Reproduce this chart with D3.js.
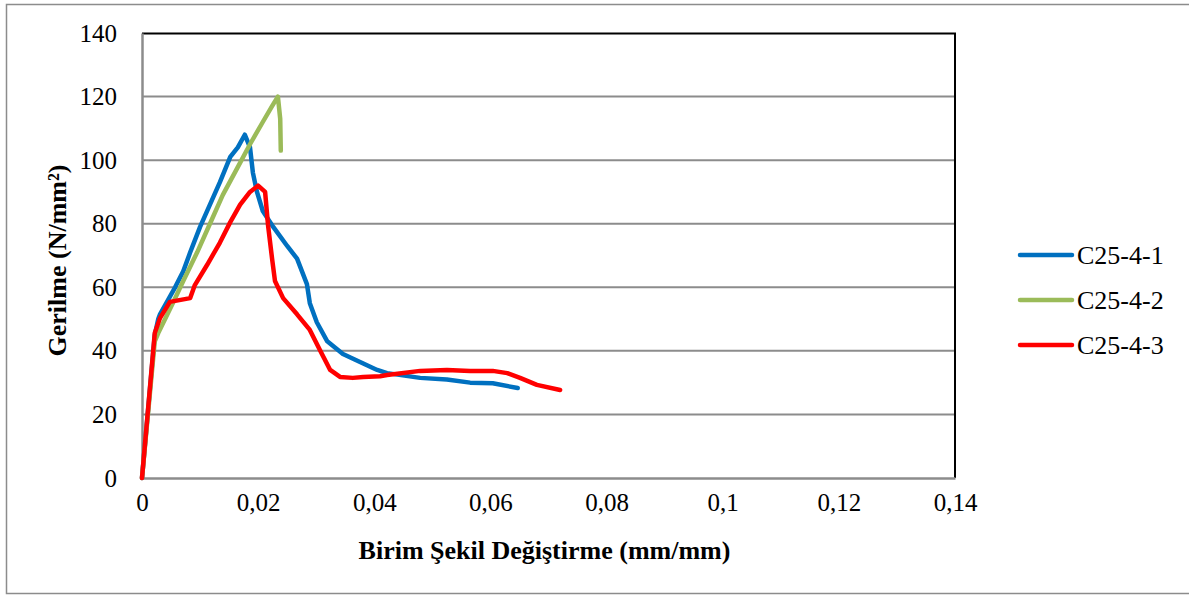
<!DOCTYPE html>
<html>
<head>
<meta charset="utf-8">
<script src="https://cdn.jsdelivr.net/npm/d3@7"></script>
<style>
  body { margin: 0; background: #fff; }
  svg { display: block; font-family: "Liberation Serif", "Times New Roman", serif; }
</style>
</head>
<body>
<svg id="chart" width="1189" height="596"></svg>
<script>
// strain (mm/mm) vs stress (N/mm²)
const seriesNames = ['C25-4-1', 'C25-4-2', 'C25-4-3'];
const seriesColors = ['#0070C0', '#9BBB59', '#FF0000'];

const c1Strain = [0, 0.0022, 0.0028, 0.0031, 0.0057, 0.0071, 0.0083, 0.0100, 0.0117, 0.0134, 0.0152, 0.0165, 0.0177,
  0.0186, 0.0191, 0.0198, 0.0208, 0.0226, 0.0250, 0.0267, 0.0284, 0.0289, 0.0301, 0.0319, 0.0346, 0.0381, 0.0405,
  0.0422, 0.0479, 0.0525, 0.0565, 0.0604, 0.0647];
const c1Stress = [0, 45, 50, 51.5, 60, 65, 71, 79, 86, 93, 101, 104, 108,
  104, 96, 90, 84, 79, 73, 69, 61, 55, 49, 43, 39, 36, 34,
  33, 31.5, 31, 30, 29.8, 28.3];

const c2Strain = [0, 0.0022, 0.0028, 0.0053, 0.0071, 0.0095, 0.0117, 0.0139, 0.0164, 0.0186, 0.0208, 0.0224, 0.0234,
  0.0238, 0.0239];
const c2Stress = [0, 43, 45.6, 55, 62, 71, 80, 89, 97.5, 105, 112, 117, 120,
  113, 103];

const c3Strain = [0, 0.0022, 0.0031, 0.0048, 0.0083, 0.0091, 0.0112, 0.0134, 0.0152, 0.0169, 0.0186, 0.0200, 0.0212,
  0.0217, 0.0224, 0.0229, 0.0243, 0.0267, 0.0289, 0.0307, 0.0324, 0.0341, 0.0363, 0.0381, 0.0410, 0.0422, 0.0479,
  0.0525, 0.0565, 0.0604, 0.0629, 0.0651, 0.0680, 0.0720];
const c3Stress = [0, 45.6, 50.3, 55.4, 56.6, 60.7, 67, 74, 80.5, 86, 90, 92, 90,
  79.6, 69, 62, 56.6, 51.5, 46.6, 40, 34, 31.8, 31.5, 31.8, 32, 32.4, 33.7,
  34, 33.7, 33.7, 33, 31.5, 29.3, 27.7];

const xTicks = [0, 0.02, 0.04, 0.06, 0.08, 0.1, 0.12, 0.14];
const yTicks = [0, 20, 40, 60, 80, 100, 120, 140];

const series = [
  { name: seriesNames[0], color: seriesColors[0], pts: d3.zip(c1Strain, c1Stress) },
  { name: seriesNames[1], color: seriesColors[1], pts: d3.zip(c2Strain, c2Stress) },
  { name: seriesNames[2], color: seriesColors[2], pts: d3.zip(c3Strain, c3Stress) }
];

const margin = { top: 33, left: 142 };
const width = 813, height = 445;

const svg = d3.select('#chart');

// chart area frame
svg.append('rect')
  .attr('x', 6.5).attr('y', 4.5)
  .attr('width', 1200).attr('height', 589)
  .attr('fill', 'none').attr('stroke', '#8c8c8c').attr('stroke-width', 1.5);

const x = d3.scaleLinear().domain([0, 0.14]).range([0, width]);
const y = d3.scaleLinear().domain([0, 140]).range([height, 0]);

const g = svg.append('g').attr('transform', `translate(${margin.left},${margin.top})`);

// horizontal gridlines
g.append('g')
  .selectAll('line')
  .data(yTicks.filter(d => d > 0 && d < 140))
  .enter().append('line')
  .attr('x1', 0).attr('x2', width)
  .attr('y1', d => y(d)).attr('y2', d => y(d))
  .attr('stroke', '#8c8c8c').attr('stroke-width', 2);

// top and right border of plot area
g.append('path')
  .attr('d', `M0,0.5H${width}V${height}`)
  .attr('fill', 'none').attr('stroke', '#000').attr('stroke-width', 2);

const fmt = d => String(d).replace('.', ',');

const xAxis = g.append('g')
  .attr('transform', `translate(0,${height})`)
  .call(d3.axisBottom(x).tickValues(xTicks).tickFormat(fmt).tickSize(0).tickPadding(15));
const yAxis = g.append('g')
  .call(d3.axisLeft(y).tickValues(yTicks).tickSize(0).tickPadding(25));

[xAxis, yAxis].forEach(a => {
  a.attr('font-size', null).attr('font-family', null);
  a.select('.domain').attr('stroke', '#8c8c8c').attr('stroke-width', 2.5);
  a.selectAll('text').style('font-size', '25px').attr('fill', '#000')
    .style('font-family', '"Liberation Serif", serif');
});

const line = d3.line().x(d => x(d[0])).y(d => y(d[1]));

g.append('g')
  .selectAll('path')
  .data(series)
  .enter().append('path')
  .attr('d', d => line(d.pts))
  .attr('fill', 'none')
  .attr('stroke', d => d.color)
  .attr('stroke-width', 4.5)
  .attr('stroke-linejoin', 'round')
  .attr('stroke-linecap', 'round');

// axis titles
svg.append('text')
  .attr('x', margin.left + width / 2 - 4).attr('y', 559)
  .attr('text-anchor', 'middle')
  .style('font-size', '26px').attr('font-weight', 'bold')
  .text('Birim Şekil Değiştirme (mm/mm)');

svg.append('text')
  .attr('transform', `translate(66,${margin.top + height / 2 + 5}) rotate(-90)`)
  .attr('text-anchor', 'middle')
  .style('font-size', '26px').attr('font-weight', 'bold')
  .text('Gerilme (N/mm²)');

// legend
const legend = svg.append('g')
  .selectAll('g')
  .data(series)
  .enter().append('g')
  .attr('transform', (d, i) => `translate(1020,${255 + i * 45})`);

legend.append('line')
  .attr('x1', 0).attr('x2', 52)
  .attr('stroke', d => d.color).attr('stroke-width', 4.5)
  .attr('stroke-linecap', 'round');

legend.append('text')
  .attr('x', 57).attr('dy', '0.35em')
  .style('font-size', '26px')
  .text(d => d.name);
</script>
</body>
</html>
